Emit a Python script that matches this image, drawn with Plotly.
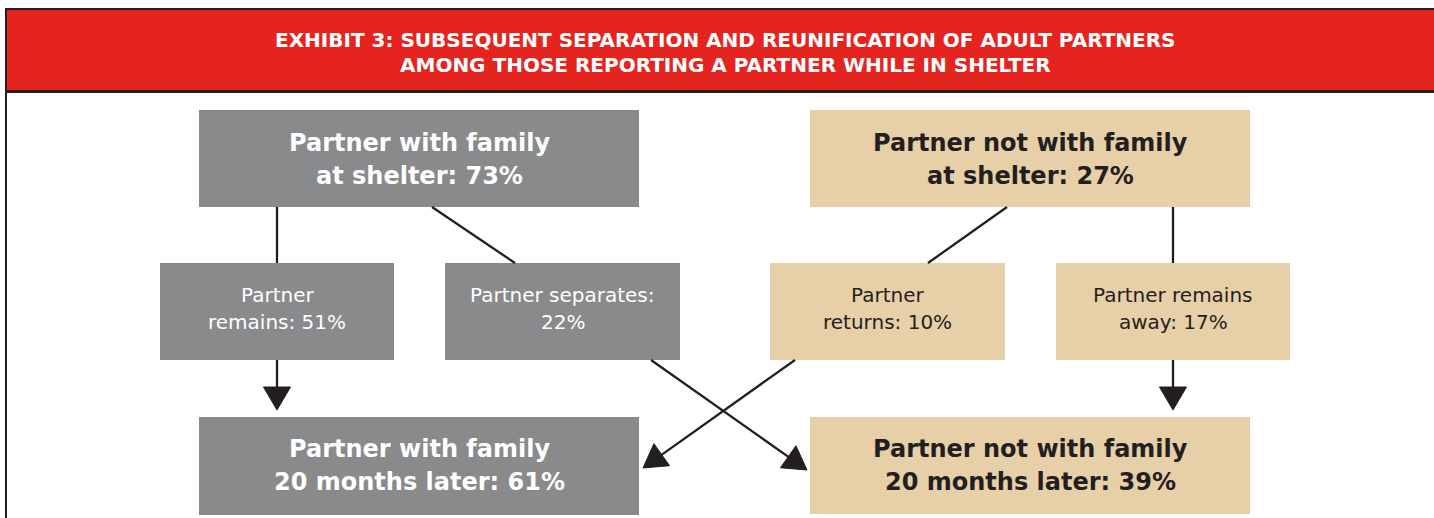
import plotly.graph_objects as go

# ---- data ----
title_lines = ["EXHIBIT 3: SUBSEQUENT SEPARATION AND REUNIFICATION OF ADULT PARTNERS",
               "AMONG THOSE REPORTING A PARTNER WHILE IN SHELTER"]
top_labels = ["Partner with family<br>at shelter", "Partner not with family<br>at shelter"]
top_values = [73, 27]
mid_labels = ["Partner<br>remains", "Partner separates:<br>", "Partner<br>returns", "Partner remains<br>away"]
mid_values = [51, 22, 10, 17]
bot_labels = ["Partner with family<br>20 months later", "Partner not with family<br>20 months later"]
bot_values = [61, 39]

# ---- styling / layout ----
W, H = 1434, 518
RED = "#e52420"
GRAY = "#898a8c"
TAN = "#e7cfa7"
DARK = "#231f20"
FONT = "DejaVu Sans"

# box geometry (x0, x1, y0, y1) in pixel space
top_boxes = [(199, 639, 110, 207), (810, 1250, 110, 207)]
mid_boxes = [(160, 394, 263, 360), (445, 680, 263, 360), (770, 1005, 263, 360), (1056, 1290, 263, 360)]
bot_boxes = [(199, 639, 417, 515), (810, 1250, 417, 514)]
top_fill = [GRAY, TAN]
mid_fill = [GRAY, GRAY, TAN, TAN]
bot_fill = [GRAY, TAN]

shapes = []
annotations = []

# header
shapes.append(dict(type="rect", x0=6, x1=W + 10, y0=9, y1=91, fillcolor=RED,
                   line=dict(color=DARK, width=2), layer="below"))
shapes.append(dict(type="rect", x0=6, x1=W + 10, y0=92, y1=H + 10, fillcolor="rgba(0,0,0,0)",
                   line=dict(color=DARK, width=2), layer="below"))
annotations.append(dict(x=725, y=40, text=title_lines[0], showarrow=False,
                        font=dict(family=FONT, size=20, color="white", weight="bold")))
annotations.append(dict(x=725, y=65, text=title_lines[1], showarrow=False,
                        font=dict(family=FONT, size=20, color="white", weight="bold")))


def add_box(box, fill, lines, size, bold, color, offsets):
    x0, x1, y0, y1 = box
    shapes.append(dict(type="rect", x0=x0, x1=x1, y0=y0, y1=y1, fillcolor=fill,
                       line=dict(width=0), layer="below"))
    cx = (x0 + x1) / 2
    cy = (y0 + y1) / 2
    for ln, off in zip(lines, offsets):
        annotations.append(dict(x=cx, y=cy + off, text=ln, showarrow=False,
                                font=dict(family=FONT, size=size, color=color,
                                          weight="bold" if bold else "normal")))


for box, fill, lab, val in zip(top_boxes, top_fill, top_labels, top_values):
    a, b = lab.split("<br>")
    col = "white" if fill == GRAY else DARK
    add_box(box, fill, [a, f"{b}: {val}%"], 24, True, col, [-16, 17])

for box, fill, lab, val in zip(mid_boxes, mid_fill, mid_labels, mid_values):
    a, b = lab.split("<br>")
    second = f"{b}: {val}%" if b else f"{val}%"
    col = "white" if fill == GRAY else DARK
    add_box(box, fill, [a, second], 20, False, col, [-17, 10])

for box, fill, lab, val in zip(bot_boxes, bot_fill, bot_labels, bot_values):
    a, b = lab.split("<br>")
    col = "white" if fill == GRAY else DARK
    add_box(box, fill, [a, f"{b}: {val}%"], 24, True, col, [-17, 16])

# connectors (plain lines)
plain = [((277, 207), (277, 263)),
         ((432, 207), (515, 263)),
         ((1007, 207), (928, 263)),
         ((1173, 207), (1173, 263))]
for (xa, ya), (xb, yb) in plain:
    shapes.append(dict(type="line", x0=xa, y0=ya, x1=xb, y1=yb, line=dict(color=DARK, width=2.3)))

# arrows (line + filled triangle head)
arrows = [((277, 360), (277, 410)),
          ((1173, 360), (1173, 410)),
          ((651, 360), (807, 470)),
          ((795, 360), (643, 468))]
HL, HW = 23, 27
for (xa, ya), (xb, yb) in arrows:
    dx, dy = xb - xa, yb - ya
    n = (dx ** 2 + dy ** 2) ** 0.5
    ux, uy = dx / n, dy / n
    px, py = -uy, ux
    bx, by = xb - HL * ux, yb - HL * uy
    shapes.append(dict(type="line", x0=xa, y0=ya, x1=bx + 2 * ux, y1=by + 2 * uy,
                       line=dict(color=DARK, width=2.3)))
    path = (f"M {xb},{yb} L {bx + HW / 2 * px},{by + HW / 2 * py} "
            f"L {bx - HW / 2 * px},{by - HW / 2 * py} Z")
    shapes.append(dict(type="path", path=path, fillcolor=DARK, line=dict(color=DARK, width=1)))

fig = go.Figure()
fig.add_trace(go.Scatter(x=[0, W], y=[0, H], mode="markers", marker=dict(opacity=0),
                         hoverinfo="skip", showlegend=False))
fig.update_layout(
    width=W, height=H, margin=dict(l=0, r=0, t=0, b=0),
    paper_bgcolor="white", plot_bgcolor="white",
    xaxis=dict(range=[0, W], visible=False, fixedrange=True),
    yaxis=dict(range=[H, 0], visible=False, fixedrange=True),
    shapes=shapes, annotations=annotations, showlegend=False,
)
fig.write_html("out.html", config={"displayModeBar": False},
               post_script="document.body.style.margin='0';document.body.style.overflow='hidden';")
